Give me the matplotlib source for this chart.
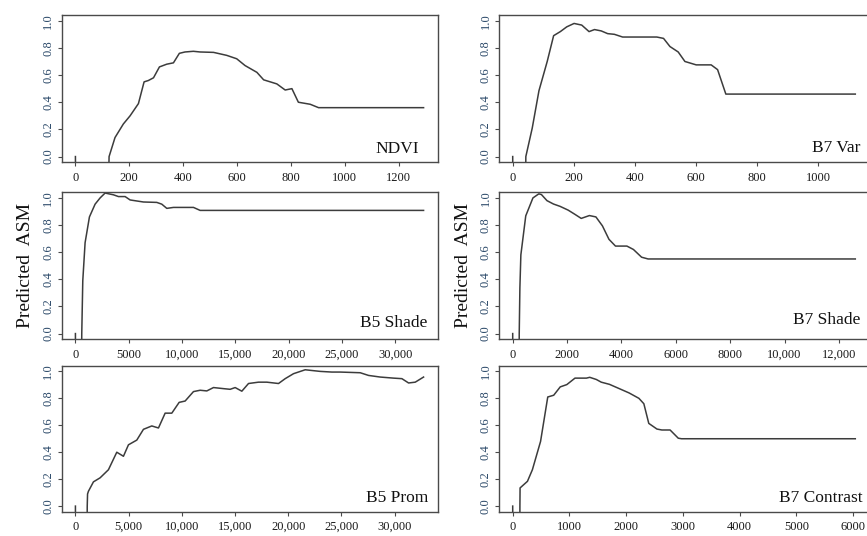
import matplotlib
matplotlib.use("Agg")
import matplotlib.pyplot as plt

plt.rcParams['font.family'] = ['Liberation Serif', 'DejaVu Serif']

# ---------------- data ----------------
ndvi_x = [0, 2, 120, 125, 147, 178, 203, 234, 255, 271, 290, 312, 339, 364, 386,
          407, 438, 463, 513, 562, 599, 630, 674, 699, 748, 779, 804, 828, 872, 903, 1293]
ndvi_y = [0.0, -0.5, -0.5, 0.0, 0.14, 0.24, 0.30, 0.39, 0.55, 0.56, 0.58, 0.66, 0.68, 0.69, 0.76,
          0.77, 0.775, 0.77, 0.767, 0.745, 0.72, 0.67, 0.62, 0.565, 0.535, 0.49, 0.50, 0.40, 0.385, 0.36, 0.36]

b7var_x = [0, 1, 41, 43, 64, 86, 113, 134, 156, 177, 201, 226, 250, 268, 290, 311, 333,
           360, 472, 494, 515, 542, 564, 601, 650, 671, 698, 1122]
b7var_y = [0.0, -0.5, -0.5, 0.0, 0.21, 0.485, 0.70, 0.89, 0.92, 0.955, 0.98, 0.968, 0.92, 0.935, 0.925, 0.905, 0.90,
           0.88, 0.88, 0.87, 0.81, 0.77, 0.70, 0.675, 0.675, 0.64, 0.46, 0.46]

b5shade_x = [0, 20, 560, 594, 690, 907, 1314, 1845, 2315, 2784, 3566, 4035, 4660, 5130,
             6381, 7632, 8100, 8570, 9196, 11073, 11699, 32655]
b5shade_y = [0.0, -0.5, -0.5, 0.0, 0.39, 0.67, 0.86, 0.954, 1.0, 1.036, 1.023, 1.01, 1.01, 0.985,
             0.97, 0.967, 0.954, 0.923, 0.93, 0.93, 0.908, 0.908]

b7shade_x = [0, 5, 235, 240, 264, 300, 480, 744, 960, 1056, 1260, 1500, 1740, 2040, 2280,
             2520, 2820, 3060, 3300, 3540, 3780, 4200, 4440, 4740, 4980, 12600]
b7shade_y = [0.0, -0.5, -0.5, 0.0, 0.335, 0.58, 0.868, 1.0, 1.03, 1.025, 0.98, 0.955, 0.938, 0.91, 0.88,
             0.849, 0.87, 0.86, 0.794, 0.695, 0.645, 0.645, 0.62, 0.563, 0.55, 0.55]

b5prom_x = [0, 20, 1080, 1110, 1140, 1222, 1693, 2320, 3103, 3887, 4514, 4984, 5768, 6395,
            7179, 7806, 8433, 9060, 9750, 10313, 11097, 11724, 12351, 12978, 13918, 14545,
            15016, 15643, 16270, 17210, 17994, 19091, 19718, 20502, 21599, 23009, 24107,
            24890, 26771, 27555, 28652, 29906, 30690, 31317, 31944, 32727]
b5prom_y = [0.0, -0.5, -0.5, 0.0, 0.09, 0.11, 0.18, 0.21, 0.27, 0.40, 0.37, 0.455, 0.49, 0.57,
            0.595, 0.58, 0.69, 0.69, 0.77, 0.78, 0.85, 0.86, 0.855, 0.88, 0.872, 0.867,
            0.88, 0.853, 0.91, 0.92, 0.92, 0.91, 0.946, 0.983, 1.012, 1.0, 0.995,
            0.995, 0.99, 0.97, 0.958, 0.95, 0.946, 0.914, 0.92, 0.958]

b7con_x = [0, 3, 124, 127, 130, 260, 347, 491, 618, 723, 838, 954, 1098, 1300, 1358, 1474,
           1561, 1705, 1879, 2052, 2225, 2312, 2399, 2543, 2630, 2775, 2919, 2977, 6040]
b7con_y = [0.0, -0.5, -0.5, 0.0, 0.135, 0.184, 0.27, 0.48, 0.81, 0.823, 0.885, 0.902, 0.95, 0.95, 0.956, 0.94,
           0.92, 0.904, 0.872, 0.84, 0.80, 0.76, 0.614, 0.572, 0.565, 0.565, 0.504, 0.5, 0.5]

panel_names = ["NDVI", "B7 Var", "B5 Shade", "B7 Shade", "B5 Prom", "B7 Contrast"]
panel_x = [ndvi_x, b7var_x, b5shade_x, b7shade_x, b5prom_x, b7con_x]
panel_y = [ndvi_y, b7var_y, b5shade_y, b7shade_y, b5prom_y, b7con_y]

xtick_vals = [
    [0, 200, 400, 600, 800, 1000, 1200],
    [0, 200, 400, 600, 800, 1000],
    [0, 5000, 10000, 15000, 20000, 25000, 30000],
    [0, 2000, 4000, 6000, 8000, 10000, 12000],
    [0, 5000, 10000, 15000, 20000, 25000, 30000],
    [0, 1000, 2000, 3000, 4000, 5000, 6000],
]
xtick_labels = [
    ["0", "200", "400", "600", "800", "1000", "1200"],
    ["0", "200", "400", "600", "800", "1000"],
    ["0", "5000", "10,000", "15,000", "20,000", "25,000", "30,000"],
    ["0", "2000", "4000", "6000", "8000", "10,000", "12,000"],
    ["0", "5,000", "10,000", "15,000", "20,000", "25,000", "30,000"],
    ["0", "1000", "2000", "3000", "4000", "5000", "6000"],
]
ytick_vals = [0.0, 0.2, 0.4, 0.6, 0.8, 1.0]
ytick_labels = ["0.0", "0.2", "0.4", "0.6", "0.8", "1.0"]
y_label = "Predicted  ASM"

# ---------------- layout ----------------
W, H = 867, 536
fig = plt.figure(figsize=(W / 100, H / 100), dpi=100)

col_left = [61.5, 499.0]
col_w = [376, 370]
rows = [(15.3, 162.0), (192.5, 339.0), (366.0, 511.5)]
label_off = [(18, 9), (9, 10), (10, 12), (9, 15), (9, 10), (6, 9)]

line_color = "#3c3c3c"
spine_color = "#4a4a4a"
ytick_color = "#2a4868"

for i, name in enumerate(panel_names):
    r, c = divmod(i, 2)
    top, bot = rows[r]
    ax = fig.add_axes([col_left[c] / W, (H - bot) / H, col_w[c] / W, (bot - top) / H])
    xs, ys = panel_x[i], panel_y[i]
    xmax = max(xs)
    ax.plot(xs, ys, color=line_color, lw=1.1)
    ax.set_xlim(-0.04 * xmax, 1.04 * xmax)
    ax.set_ylim(-0.04, 1.04)
    ax.set_xticks(xtick_vals[i])
    ax.set_xticklabels(xtick_labels[i], fontsize=9, color="#1a1a1a")
    ax.set_yticks(ytick_vals)
    ax.set_yticklabels(ytick_labels, fontsize=9, rotation=90, va="center", color=ytick_color)
    ax.tick_params(axis="both", direction="out", length=3, width=0.8, color=spine_color)
    ax.tick_params(axis="x", pad=4)
    ax.tick_params(axis="y", pad=2.2)
    for s in ax.spines.values():
        s.set_color(spine_color)
        s.set_linewidth(1.0)
    dx, dy = label_off[i]
    ax.annotate(name, xy=(1, 0), xycoords="axes fraction", xytext=(-dx, dy),
                textcoords="offset pixels", ha="right", va="baseline",
                fontsize=12.5, color="#111111")
    if r == 1:
        ax.text(-36 / col_w[c], 0.5, y_label, transform=ax.transAxes, rotation=90,
                ha="center", va="center", fontsize=14, color="#111111")

fig.savefig("out.png", dpi=100)
